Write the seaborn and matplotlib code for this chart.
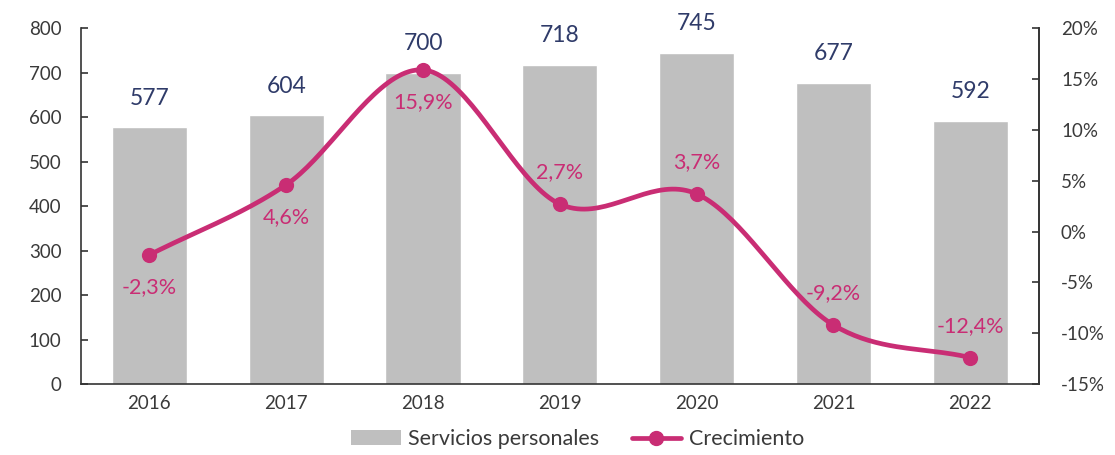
import numpy as np
import pandas as pd
import seaborn as sns
import matplotlib.pyplot as plt
from matplotlib.patches import Patch
from matplotlib.lines import Line2D
from matplotlib.ticker import FuncFormatter

# data
years = ["2016", "2017", "2018", "2019", "2020", "2021", "2022"]
servicios = [577, 604, 700, 718, 745, 677, 592]
crecimiento = [-2.3, 4.6, 15.9, 2.7, 3.7, -9.2, -12.4]
# where the growth label sits: -1 below the point, +1 above
label_side = [-1, -1, -1, 1, 1, 1, 1]

bar_color = "#BFBFBF"
line_color = "#C92D74"
navy = "#2F3B69"
txt = "#3A3A3A"

sns.set_theme(style="white")
plt.rcParams['font.family'] = ['Lato', 'DejaVu Sans']


def catmull_rom(xs, ys, n=40):
    "smooth curve through the points, like Excel's smoothed line"
    xs = np.asarray(xs, float)
    ys = np.asarray(ys, float)
    px = np.concatenate([[2 * xs[0] - xs[1]], xs, [2 * xs[-1] - xs[-2]]])
    py = np.concatenate([[2 * ys[0] - ys[1]], ys, [2 * ys[-1] - ys[-2]]])
    outx, outy = [], []
    t = np.linspace(0, 1, n)
    for i in range(1, len(px) - 2):
        for p, out in ((px, outx), (py, outy)):
            p0, p1, p2, p3 = p[i - 1], p[i], p[i + 1], p[i + 2]
            out.extend(0.5 * ((2 * p1) + (-p0 + p2) * t
                              + (2 * p0 - 5 * p1 + 4 * p2 - p3) * t ** 2
                              + (-p0 + 3 * p1 - 3 * p2 + p3) * t ** 3))
    return np.array(outx), np.array(outy)


df = pd.DataFrame({"year": years, "servicios": servicios, "crec": crecimiento})

fig = plt.figure(figsize=(11.15, 4.55), dpi=100)
ax = fig.add_axes([0.0726, 0.156, 0.859, 0.782])

sns.barplot(data=df, x="year", y="servicios", color=bar_color, width=0.55,
            saturation=1, ax=ax)
ax.set_xlim(-0.5, len(years) - 0.5)
ax.set_ylim(0, 800)
ax.set_yticks(range(0, 801, 100))
ax.set_xlabel("")
ax.set_ylabel("")

for i, v in enumerate(servicios):
    ax.annotate(str(v), (i, v), xytext=(0, 21), textcoords="offset points",
                ha="center", va="center", fontsize=16.5, color=navy)

ax2 = ax.twinx()
ax2.set_ylim(-15, 20)
ax2.set_yticks(range(-15, 21, 5))
ax2.yaxis.set_major_formatter(FuncFormatter(lambda v, _: f"{v:.0f}%"))

xpos = np.arange(len(years))
sx, sy = catmull_rom(xpos, crecimiento)
ax2.plot(sx, sy, color=line_color, lw=3.4, solid_capstyle="round", zorder=3)
sns.scatterplot(x=xpos, y=crecimiento, color=line_color, s=120, edgecolor=line_color,
                linewidth=0, ax=ax2, zorder=4)

for i, (v, side) in enumerate(zip(crecimiento, label_side)):
    lab = f"{v:.1f}%".replace(".", ",")
    ax2.annotate(lab, (i, v), xytext=(0, 23 * side), textcoords="offset points",
                 ha="center", va="center", fontsize=15.5, color=line_color)

for a in (ax, ax2):
    a.spines["top"].set_visible(False)
    for s in ("left", "right", "bottom"):
        a.spines[s].set_color("#333333")
        a.spines[s].set_linewidth(1.2)
    a.tick_params(axis="y", direction="in", length=5, width=1.2, colors="#333333",
                  labelcolor=txt, labelsize=13.5)
ax.tick_params(axis="x", length=0, labelcolor=txt, labelsize=13.5, pad=8)
ax.tick_params(axis="y", pad=14)
ax2.tick_params(axis="y", pad=16)
ax2.spines["left"].set_visible(False)
ax2.spines["bottom"].set_visible(False)

handles = [Patch(facecolor=bar_color, edgecolor="none"),
           Line2D([], [], color=line_color, lw=3.4, marker="o", markersize=10)]
fig.legend(handles, ["Servicios personales", "Crecimiento"], loc="center",
           bbox_to_anchor=(0.518, 0.035), ncol=2, frameon=False, fontsize=15.5,
           handlelength=2.3, handletextpad=0.35, columnspacing=1.5,
           labelcolor=txt)

fig.savefig("out.png", dpi=100, facecolor="white")
